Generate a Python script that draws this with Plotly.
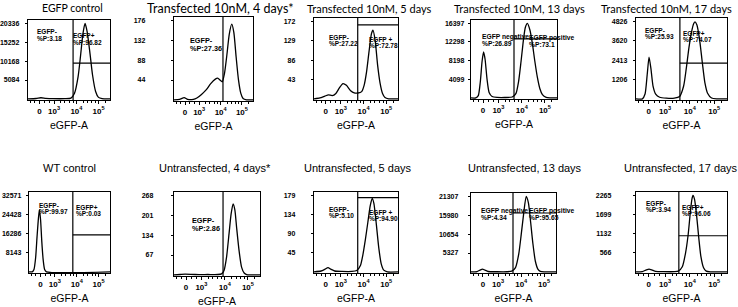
import plotly.graph_objects as go

W, H = 738, 307

# ---------------- data (display units on biexponential axis) ----------------
titles = ["EGFP control", "Transfected 10nM, 4 days*", "Transfected 10nM, 5 days",
          "Transfected 10nM, 13 days", "Transfected 10nM, 17 days",
          "WT control", "Untransfected, 4 days*", "Untransfected, 5 days",
          "Untransfected, 13 days", "Untransfected, 17 days"]

x_tick_text = ["0", "10<sup>3</sup>", "10<sup>4</sup>", "10<sup>5</sup>"]
x_tick_pos = [2.44, 3.05, 3.98, 4.90]

yticks_p1 = [5084, 10168, 15252, 20336]
yticks_p2 = [44, 88, 132, 176]
yticks_p3 = [43, 86, 129, 172]
yticks_p4 = [4099, 8198, 12298, 16397]
yticks_p5 = [1206, 2413, 3620, 4826]
yticks_p6 = [8143, 16286, 24428, 32571]
yticks_p7 = [67, 134, 201, 268]
yticks_p8 = [45, 90, 134, 179]
yticks_p9 = [5327, 10654, 15980, 21307]
yticks_p10 = [566, 1132, 1699, 2265]

p1_x = [1.96, 2.3, 2.5, 2.7, 3.0, 3.5, 3.75, 3.9, 4.05, 4.15, 4.25, 4.34, 4.43, 4.55, 4.65, 4.78, 4.9, 5.05, 5.4]
p1_y = [0, 100, 300, 150, 50, 50, 200, 1500, 6000, 11500, 17500, 20336, 18000, 12000, 6500, 2000, 400, 50, 0]

p2_x = [1.96, 2.2, 2.4, 2.55, 2.8, 2.95, 3.15, 3.35, 3.55, 3.75, 3.85, 3.95, 4.05, 4.15, 4.25, 4.35, 4.46, 4.55, 4.65, 4.75, 4.85, 4.95, 5.1, 5.4]
p2_y = [0, 1, 5, 1, 1, 4, 12, 22, 36, 46, 48, 44, 40, 60, 100, 145, 168, 150, 95, 45, 15, 3, 0, 0]

p3_x = [1.96, 2.2, 2.4, 2.55, 2.7, 2.85, 3.0, 3.14, 3.28, 3.45, 3.6, 3.75, 3.9, 4.0, 4.1, 4.2, 4.3, 4.36, 4.45, 4.55, 4.65, 4.75, 4.85, 5.0, 5.4]
p3_y = [0, 2, 6, 9, 7, 12, 25, 34, 30, 18, 13, 13, 16, 30, 60, 105, 145, 153, 130, 75, 35, 12, 3, 0, 0]

p4_x = [1.96, 2.15, 2.25, 2.33, 2.4, 2.46, 2.52, 2.6, 2.68, 2.8, 3.0, 3.3, 3.6, 3.75, 3.85, 3.95, 4.05, 4.12, 4.2, 4.3, 4.4, 4.5, 4.6, 4.7, 4.8, 4.95, 5.1, 5.4]
p4_y = [0, 0, 500, 3500, 8000, 10100, 8500, 4000, 1200, 300, 100, 80, 200, 1000, 3500, 8000, 13000, 15500, 16397, 15000, 12000, 8000, 4500, 2000, 700, 100, 0, 0]

p5_x = [1.96, 2.2, 2.3, 2.38, 2.45, 2.52, 2.6, 2.7, 2.85, 3.1, 3.4, 3.6, 3.75, 3.85, 3.95, 4.05, 4.13, 4.18, 4.25, 4.35, 4.45, 4.55, 4.65, 4.8, 5.0, 5.4]
p5_y = [0, 0, 300, 1500, 2600, 1900, 800, 300, 100, 40, 40, 150, 800, 1900, 3200, 4200, 4700, 4800, 4600, 3700, 2300, 1000, 350, 50, 0, 0]

p6_x = [1.96, 2.1, 2.17, 2.24, 2.3, 2.36, 2.4, 2.45, 2.5, 2.56, 2.62, 2.7, 5.4]
p6_y = [0, 0, 1000, 6000, 15000, 23000, 26500, 22000, 13000, 5000, 1000, 0, 0]

p7_x = [1.96, 2.2, 2.4, 2.8, 3.3, 3.7, 3.85, 3.95, 4.05, 4.15, 4.23, 4.31, 4.38, 4.45, 4.55, 4.65, 4.75, 4.85, 5.0, 5.4]
p7_y = [0, 1, 2, 1, 1, 1, 3, 15, 60, 140, 205, 240, 220, 160, 80, 25, 6, 1, 0, 0]

p8_x = [1.96, 2.25, 2.4, 2.53, 2.65, 2.8, 3.1, 3.5, 3.7, 3.85, 3.95, 4.05, 4.15, 4.25, 4.33, 4.4, 4.5, 4.6, 4.7, 4.8, 4.95, 5.4]
p8_y = [0, 2, 6, 10, 6, 2, 1, 1, 3, 15, 40, 75, 115, 155, 172, 160, 110, 55, 18, 4, 0, 0]

p9_x = [1.96, 2.2, 2.32, 2.42, 2.52, 2.65, 3.0, 3.4, 3.6, 3.75, 3.88, 3.98, 4.08, 4.18, 4.27, 4.36, 4.45, 4.55, 4.65, 4.75, 4.9, 5.4]
p9_y = [0, 100, 500, 800, 500, 100, 30, 30, 200, 1200, 5000, 10500, 16500, 21307, 19500, 14000, 8000, 3000, 800, 150, 0, 0]

p10_x = [1.96, 2.2, 2.35, 2.45, 2.55, 2.7, 3.0, 3.4, 3.55, 3.7, 3.82, 3.92, 4.0, 4.06, 4.1, 4.16, 4.24, 4.32, 4.4, 4.5, 4.6, 4.75, 5.4]
p10_y = [0, 10, 60, 80, 60, 15, 5, 5, 20, 150, 550, 1100, 1750, 2150, 2265, 2150, 1650, 1000, 450, 120, 20, 0, 0]

gate_x = [3.84, 4.08, 3.74, 3.67, 3.61, 3.81, 3.91, 3.74, 3.65, 3.57]
gate_hfrac = [0.46, None, 0.915, 0.76, 0.45, 0.47, None, 0.93, 0.75, 0.46]

# gate labels: (panel, line1, line2, x_px, y1_px, y2_px, size)
gate_labels = [
    (0, "EGFP-", "%P:3.18", 35, 31, 38, 6.5),
    (0, "EGFP+", "%P:96.82", 71, 35, 42, 6.5),
    (1, "EGFP-", "%P:27.36", 188, 40, 48.5, 7.3),
    (2, "EGFP-", "%P:27.22", 327, 37, 43.5, 6.5),
    (2, "EGFP +", "%P:72.78", 367, 39, 45.5, 6.5),
    (3, "EGFP negative", "%P:26.89", 480, 37, 43.5, 6.7),
    (3, "EGFP positive", "%P:73.1", 527, 38, 44.5, 6.7),
    (4, "EGFP-", "%P:25.93", 643, 30, 36.5, 6.5),
    (4, "EGFP+", "%P:74.07", 681, 33, 39.5, 6.5),
    (5, "EGFP-", "%P:99.97", 37, 205, 211.5, 6.5),
    (5, "EGFP+", "%P:0.03", 74, 207, 213.5, 6.5),
    (6, "EGFP-", "%P:2.86", 190, 220, 228.5, 7.3),
    (7, "EGFP-", "%P:5.10", 327, 209, 215.5, 6.5),
    (7, "EGFP +", "%P:94.90", 367, 212, 218.5, 6.5),
    (8, "EGFP negative", "%P:4.34", 479, 211, 217.5, 6.7),
    (8, "EGFP positive", "%P:95.65", 527, 211, 217.5, 6.7),
    (9, "EGFP-", "%P:3.94", 644, 203, 209.5, 6.5),
    (9, "EGFP+", "%P:96.06", 680, 207, 213.5, 6.5),
]

# ---------------- layout geometry (pixels) ----------------
boxes = [(28, 110, 20, 100), (174, 253, 17, 101), (314, 398, 18, 100), (471, 557, 20, 99), (636, 727, 18, 100),
         (29, 110, 192, 273), (174, 260, 192, 276), (314, 398, 192, 273), (471, 556, 193, 273), (636, 727, 192, 273)]
title_xc = [72, 220, 369, 519, 666, 69, 215, 358, 525, 681]
title_y = [8, 8, 8, 8, 8, 168, 168, 168, 168, 168]
title_font = ["Lato"] * 5 + ["Liberation Sans"] * 5
title_size = [10.5, 12.5, 11, 11, 11, 11, 11, 11, 11, 11]
ylab_standoff = [4, 24, 14, 2, 4, 3, 16, 14, 8, 20]

xs = [p1_x, p2_x, p3_x, p4_x, p5_x, p6_x, p7_x, p8_x, p9_x, p10_x]
ys = [p1_y, p2_y, p3_y, p4_y, p5_y, p6_y, p7_y, p8_y, p9_y, p10_y]
yts = [yticks_p1, yticks_p2, yticks_p3, yticks_p4, yticks_p5,
       yticks_p6, yticks_p7, yticks_p8, yticks_p9, yticks_p10]

minor_vals = [2.05, 2.25, 2.65, 2.85, 3.33, 3.5, 3.7, 3.85, 4.26, 4.43, 4.62, 4.77, 5.18]

fig = go.Figure()
layout = dict(width=W, height=H, margin=dict(l=0, r=0, t=0, b=0),
              paper_bgcolor="white", plot_bgcolor="white", showlegend=False,
              font=dict(color="#000000"))
annotations = []
shapes = []

for i in range(10):
    n = "" if i == 0 else str(i + 1)
    l, r, t, b = boxes[i]
    top = yts[i][-1]
    fig.add_trace(go.Scatter(x=xs[i], y=ys[i], mode="lines", line=dict(color="black", width=1.3, shape="spline", smoothing=0.6),
                             xaxis="x" + n, yaxis="y" + n, hoverinfo="skip"))
    layout["xaxis" + n] = dict(domain=[l / W, r / W], anchor="y" + n, range=[1.96, 5.38],
                               showgrid=False, zeroline=False, showline=True, mirror=True,
                               linecolor="black", linewidth=1.4,
                               tickmode="array", tickvals=x_tick_pos, ticktext=x_tick_text,
                               ticks="outside", ticklen=3, tickwidth=1, tickcolor="black",
                               minor=dict(tickmode="array", tickvals=minor_vals, ticks="outside", ticklen=2, tickwidth=0.8, tickcolor="black"),
                               tickfont=dict(family="Liberation Sans", size=8, color="#000000", weight="bold"),
                               title=dict(text="eGFP-A", standoff=6, font=dict(family="Liberation Sans", size=10.5, color="#000000")))
    layout["yaxis" + n] = dict(domain=[1 - b / H, 1 - t / H], anchor="x" + n,
                               range=[-0.015 * top, 1.045 * top],
                               showgrid=False, zeroline=False, showline=True, mirror=True,
                               linecolor="black", linewidth=1.4,
                               tickmode="array", tickvals=yts[i], ticktext=[str(v) for v in yts[i]],
                               ticks="outside", ticklen=2, tickwidth=1, tickcolor="black",
                               ticklabelstandoff=ylab_standoff[i],
                               tickfont=dict(family="Liberation Sans", size=7, color="#000000", weight="bold"))
    annotations.append(dict(text=titles[i], x=title_xc[i] / W, y=1 - title_y[i] / H, xref="paper", yref="paper",
                            xanchor="center", yanchor="middle", showarrow=False,
                            font=dict(family=title_font[i], size=title_size[i], color="#000000")))
    shapes.append(dict(type="line", xref="x" + n, yref="y" + n + " domain", x0=gate_x[i], x1=gate_x[i], y0=0, y1=1,
                       line=dict(color="black", width=1.2)))
    if gate_hfrac[i] is not None:
        shapes.append(dict(type="line", xref="x" + n, yref="y" + n + " domain", x0=gate_x[i], x1=5.38,
                           y0=gate_hfrac[i], y1=gate_hfrac[i], line=dict(color="black", width=1.2)))

for (p, t1, t2, xp, y1, y2, sz) in gate_labels:
    for txt, yp in ((t1, y1), (t2, y2)):
        annotations.append(dict(text=txt, x=xp / W, y=1 - yp / H, xref="paper", yref="paper",
                                xanchor="left", yanchor="middle", showarrow=False,
                                font=dict(family="Liberation Sans", size=sz, color="#000000", weight="bold")))

layout["annotations"] = annotations
layout["shapes"] = shapes
fig.update_layout(**layout)
fig.write_html("out.html")
